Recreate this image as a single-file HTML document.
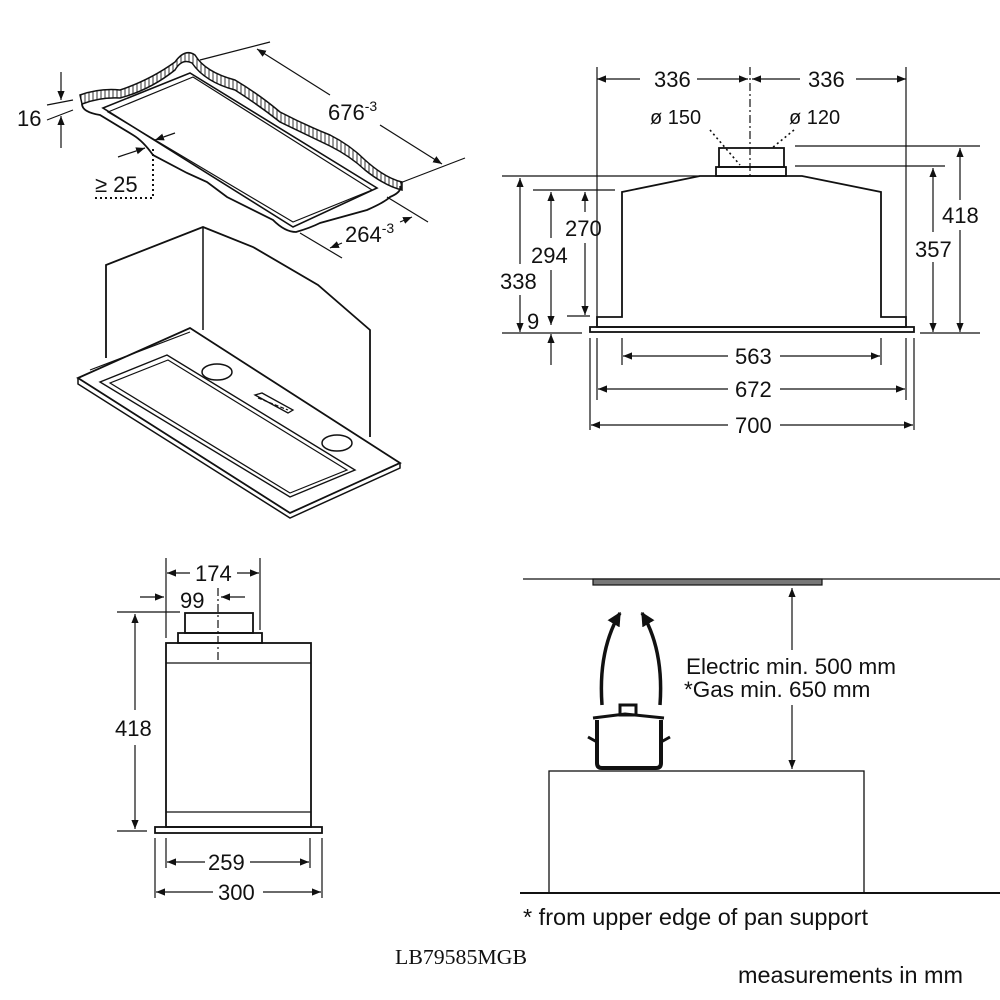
<!DOCTYPE html>
<html><head><meta charset="utf-8"><style>
html,body{margin:0;padding:0;background:#fff}
svg{display:block}
text{font-family:"Liberation Sans",sans-serif;fill:#111}
</style></head><body>
<svg width="1000" height="1000" viewBox="0 0 1000 1000" xmlns="http://www.w3.org/2000/svg">
<defs>
<marker id="a" viewBox="0 0 10 10" refX="10" refY="5" markerWidth="9" markerHeight="9" markerUnits="userSpaceOnUse" orient="auto-start-reverse"><path d="M0,1 L10,5 L0,9 z" fill="#111"/></marker>
<marker id="b" viewBox="0 0 10 10" refX="9" refY="5" markerWidth="14" markerHeight="14" markerUnits="userSpaceOnUse" orient="auto"><path d="M0,0 L10,5 L0,10 z" fill="#111"/></marker>
<pattern id="h" width="4" height="4" patternUnits="userSpaceOnUse"><rect width="4" height="4" fill="#fff"/><line x1="1" y1="0" x2="1" y2="4" stroke="#333" stroke-width="1"/></pattern>
</defs>
<g stroke="#111" fill="none" stroke-width="1.2">

<!-- ===== Top-left: cutout slab ===== -->
<path d="M80,95 Q100,88 120,90 Q150,80 175,62 Q185,48 195,55 Q205,72 235,80 Q260,95 280,112 Q305,125 330,135 Q350,145 365,160 Q385,178 402,182 L402,190 Q385,186 365,170 Q350,156 330,146 Q305,134 280,122 Q260,106 235,90 Q205,82 192,63 Q182,58 175,70 Q150,90 120,98 Q100,97 82,104 Z" fill="url(#h)" stroke-width="1.5"/>
<path d="M82,104 Q82,112 100,115 L133,135 Q143,141 153,155 L187,173 L207,182 Q215,188 227,197 L273,220 Q285,232 296,232 Q310,228 320,223 L367,210 Q385,202 390,197 Q402,192 400,186" stroke-width="1.8"/>
<path d="M103,108 L190,73 L377,188 L293,227 Z" stroke-width="1.6"/>
<path d="M108,112 L193,77 L372,190 L293,222 Z" stroke-width="1.2"/>
<!-- 676 dim -->
<line x1="200" y1="60" x2="270" y2="42"/>
<line x1="400" y1="183" x2="465" y2="158"/>
<line x1="257" y1="49" x2="330" y2="95" marker-start="url(#a)"/>
<line x1="380" y1="125" x2="442" y2="164" marker-end="url(#a)"/>
<text x="328" y="120" font-size="22" stroke="none">676<tspan font-size="14" dy="-9">-3</tspan></text>
<!-- 264 dim -->
<line x1="387" y1="197" x2="428" y2="222"/>
<line x1="300" y1="233" x2="342" y2="258"/>
<line x1="330" y1="248" x2="342" y2="243" marker-start="url(#a)"/>
<line x1="400" y1="222" x2="412" y2="217" marker-end="url(#a)"/>
<text x="345" y="242" font-size="22" stroke="none">264<tspan font-size="14" dy="-9">-3</tspan></text>
<!-- 16 dim -->
<line x1="47" y1="105" x2="73" y2="100"/>
<line x1="47" y1="120" x2="73" y2="110"/>
<line x1="61" y1="72" x2="61" y2="100" marker-end="url(#a)"/>
<line x1="61" y1="148" x2="61" y2="116" marker-end="url(#a)"/>
<text x="17" y="126" font-size="22" stroke="none">16</text>
<!-- >=25 -->
<line x1="118" y1="157" x2="145" y2="148" marker-end="url(#a)"/>
<line x1="175" y1="133" x2="155" y2="140" marker-end="url(#a)"/>
<path d="M95,198 L153,198 L153,148" stroke-dasharray="2,3" stroke-width="2"/>
<text x="95" y="192" font-size="22" stroke="none">≥ 25</text>

<!-- ===== iso hood ===== -->
<path d="M106,358 L106,265 L203,227 L253,247 L318,285 L370,330 L370,437" stroke-width="1.8"/>
<line x1="203" y1="227" x2="203" y2="330" stroke-width="1.5"/>
<path d="M78,378 L190,328 L400,463 L290,513 Z" stroke-width="1.8"/>
<path d="M78,378 L78,384 L290,518 L400,468 L400,463" stroke-width="1.5"/>
<path d="M90,370 L190,332" stroke-width="1.2"/>
<path d="M100,382 L167,355 L355,470 L290,497 Z" stroke-width="1.4"/>
<path d="M110,383 L168,360 L347,470 L290,493 Z" stroke-width="1.2"/>
<ellipse cx="217" cy="372" rx="15" ry="8" stroke-width="1.5"/>
<ellipse cx="337" cy="443" rx="15" ry="8" stroke-width="1.5"/>
<path d="M255,395 L262,393 L293,410 L288,413 Z" stroke-width="1.3"/>
<line x1="258" y1="398" x2="288" y2="410" stroke-dasharray="4,2"/>

<!-- ===== Top-right front view ===== -->
<line x1="597" y1="67" x2="597" y2="325"/>
<line x1="906" y1="67" x2="906" y2="317"/>
<line x1="750" y1="67" x2="750" y2="176" stroke-dasharray="8,3,2,3"/>
<line x1="597" y1="79" x2="640" y2="79" marker-start="url(#a)"/>
<line x1="697" y1="79" x2="748" y2="79" marker-end="url(#a)"/>
<line x1="752" y1="79" x2="800" y2="79" marker-start="url(#a)"/>
<line x1="856" y1="79" x2="906" y2="79" marker-end="url(#a)"/>
<text x="654" y="87" font-size="22" stroke="none">336</text>
<text x="808" y="87" font-size="22" stroke="none">336</text>
<text x="650" y="124" font-size="20" stroke="none">ø 150</text>
<text x="789" y="124" font-size="20" stroke="none">ø 120</text>
<path d="M710,130 L740,165" stroke-dasharray="2,3" stroke-width="1.6"/>
<path d="M794,130 L772,148" stroke-dasharray="2,3" stroke-width="1.6"/>
<rect x="719" y="148" width="65" height="19" stroke-width="1.8"/>
<rect x="716" y="167" width="70" height="9" stroke-width="1.8"/>
<path d="M597,317 L622,317 L622,192 L700,176 L802,176 L881,192 L881,317 L906,317 L906,327 L597,327 Z" stroke-width="1.8"/>
<rect x="590" y="327" width="324" height="5" stroke-width="1.8"/>
<line x1="795" y1="146" x2="980" y2="146"/>
<line x1="795" y1="166" x2="945" y2="166"/>
<line x1="920" y1="333" x2="980" y2="333"/>
<line x1="960" y1="148" x2="960" y2="200" marker-start="url(#a)"/>
<line x1="960" y1="230" x2="960" y2="332" marker-end="url(#a)"/>
<text x="942" y="223" font-size="22" stroke="none">418</text>
<line x1="933" y1="168" x2="933" y2="232" marker-start="url(#a)"/>
<line x1="933" y1="262" x2="933" y2="332" marker-end="url(#a)"/>
<text x="915" y="257" font-size="22" stroke="none">357</text>
<line x1="502" y1="176" x2="700" y2="176"/>
<line x1="533" y1="190" x2="615" y2="190"/>
<line x1="567" y1="316" x2="590" y2="316"/>
<line x1="502" y1="333" x2="582" y2="333"/>
<line x1="520" y1="178" x2="520" y2="264" marker-start="url(#a)"/>
<line x1="520" y1="295" x2="520" y2="332" marker-end="url(#a)"/>
<text x="500" y="289" font-size="22" stroke="none">338</text>
<line x1="551" y1="192" x2="551" y2="238" marker-start="url(#a)"/>
<line x1="551" y1="270" x2="551" y2="325" marker-end="url(#a)"/>
<text x="531" y="263" font-size="22" stroke="none">294</text>
<line x1="585" y1="192" x2="585" y2="212" marker-start="url(#a)"/>
<line x1="585" y1="243" x2="585" y2="315" marker-end="url(#a)"/>
<text x="565" y="236" font-size="22" stroke="none">270</text>
<text x="527" y="329" font-size="22" stroke="none">9</text>
<line x1="551" y1="365" x2="551" y2="334" marker-end="url(#a)"/>
<line x1="590" y1="338" x2="590" y2="430"/>
<line x1="597" y1="338" x2="597" y2="400"/>
<line x1="622" y1="338" x2="622" y2="365"/>
<line x1="881" y1="338" x2="881" y2="365"/>
<line x1="906" y1="338" x2="906" y2="400"/>
<line x1="914" y1="338" x2="914" y2="430"/>
<line x1="623" y1="356" x2="728" y2="356" marker-start="url(#a)"/>
<line x1="780" y1="356" x2="880" y2="356" marker-end="url(#a)"/>
<text x="735" y="364" font-size="22" stroke="none">563</text>
<line x1="598" y1="389" x2="728" y2="389" marker-start="url(#a)"/>
<line x1="780" y1="389" x2="905" y2="389" marker-end="url(#a)"/>
<text x="735" y="397" font-size="22" stroke="none">672</text>
<line x1="591" y1="425" x2="728" y2="425" marker-start="url(#a)"/>
<line x1="780" y1="425" x2="913" y2="425" marker-end="url(#a)"/>
<text x="735" y="433" font-size="22" stroke="none">700</text>

<!-- ===== Bottom-left side view ===== -->
<line x1="166" y1="558" x2="166" y2="638"/>
<line x1="260" y1="558" x2="260" y2="630"/>
<line x1="167" y1="573" x2="190" y2="573" marker-start="url(#a)"/>
<line x1="237" y1="573" x2="259" y2="573" marker-end="url(#a)"/>
<text x="195" y="581" font-size="22" stroke="none">174</text>
<line x1="140" y1="597" x2="164" y2="597" marker-end="url(#a)"/>
<line x1="245" y1="597" x2="221" y2="597" marker-end="url(#a)"/>
<text x="180" y="608" font-size="22" stroke="none">99</text>
<line x1="218" y1="588" x2="218" y2="663" stroke-dasharray="8,3,2,3"/>
<rect x="185" y="613" width="68" height="20" stroke-width="1.8"/>
<rect x="178" y="633" width="84" height="10" stroke-width="1.8"/>
<rect x="166" y="643" width="145" height="184" stroke-width="1.8"/>
<line x1="166" y1="663" x2="311" y2="663"/>
<line x1="166" y1="812" x2="311" y2="812"/>
<rect x="155" y="827" width="167" height="6" stroke-width="1.8"/>
<line x1="117" y1="612" x2="180" y2="612"/>
<line x1="117" y1="831" x2="147" y2="831"/>
<line x1="135" y1="614" x2="135" y2="710" marker-start="url(#a)"/>
<line x1="135" y1="745" x2="135" y2="829" marker-end="url(#a)"/>
<text x="115" y="736" font-size="22" stroke="none">418</text>
<line x1="155" y1="838" x2="155" y2="898"/>
<line x1="166" y1="838" x2="166" y2="868"/>
<line x1="310" y1="838" x2="310" y2="868"/>
<line x1="322" y1="838" x2="322" y2="898"/>
<line x1="167" y1="862" x2="205" y2="862" marker-start="url(#a)"/>
<line x1="250" y1="862" x2="309" y2="862" marker-end="url(#a)"/>
<text x="208" y="870" font-size="22" stroke="none">259</text>
<line x1="156" y1="892" x2="213" y2="892" marker-start="url(#a)"/>
<line x1="263" y1="892" x2="321" y2="892" marker-end="url(#a)"/>
<text x="218" y="900" font-size="22" stroke="none">300</text>

<!-- ===== Bottom-right installation ===== -->
<line x1="523" y1="579" x2="1000" y2="579"/>
<rect x="593" y="579" width="229" height="6" fill="#777" stroke-width="1.2"/>
<line x1="792" y1="588" x2="792" y2="650" marker-start="url(#a)"/>
<line x1="792" y1="705" x2="792" y2="769" marker-end="url(#a)"/>
<text x="686" y="674" font-size="22.5" stroke="none">Electric min. 500 mm</text>
<text x="684" y="697" font-size="22.5" stroke="none">*Gas min. 650 mm</text>
<rect x="549" y="771" width="315" height="122" stroke-width="1.3"/>
<line x1="520" y1="893" x2="1000" y2="893" stroke-width="2"/>
<path d="M602,705 Q598,650 620,613" stroke-width="3.5" marker-end="url(#b)"/>
<path d="M660,705 Q664,650 642,613" stroke-width="3.5" marker-end="url(#b)"/>
<path d="M597,720 L597,763 Q597,768 602,768 L656,768 Q661,768 661,763 L661,720" stroke-width="4"/>
<path d="M593,718 L625,714 L664,718" stroke-width="3"/>
<rect x="620" y="705" width="16" height="10" stroke-width="3"/>
<path d="M588,737 L597,742 M670,737 L661,742" stroke-width="3"/>
</g>
<text x="523" y="925" font-size="23" textLength="345" lengthAdjust="spacingAndGlyphs">* from upper edge of pan support</text>
<text x="395" y="964" font-size="21" style="font-family:'Liberation Serif',serif" textLength="132" lengthAdjust="spacingAndGlyphs">LB79585MGB</text>
<text x="738" y="983" font-size="23" textLength="225" lengthAdjust="spacingAndGlyphs">measurements in mm</text>
</svg>
</body></html>
